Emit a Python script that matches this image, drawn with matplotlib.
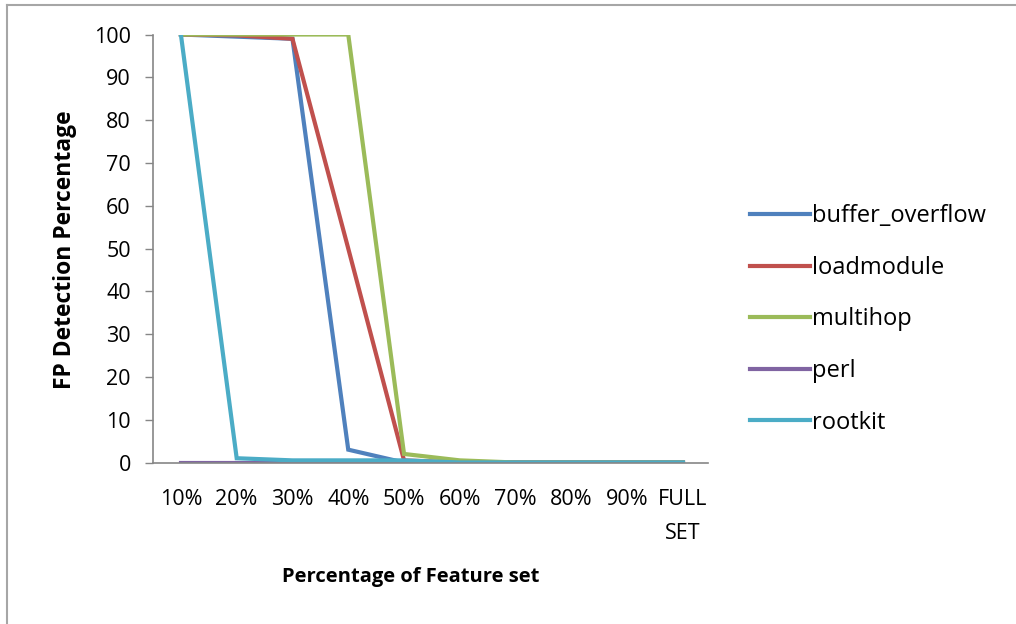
import matplotlib
matplotlib.use("Agg")
import matplotlib.pyplot as plt
from matplotlib.lines import Line2D

plt.rcParams['font.family'] = ['Open Sans', 'DejaVu Sans']

categories = ['10%', '20%', '30%', '40%', '50%', '60%', '70%', '80%', '90%', 'FULL\nSET']
buffer_overflow = [100, 99.5, 99, 3, 0, 0, 0, 0, 0, 0]
loadmodule = [100, 99.8, 99, 50, 0.5, 0, 0, 0, 0, 0]
multihop = [100, 100, 100, 100, 2, 0.5, 0, 0, 0, 0]
perl = [0, 0, 0, 0, 0, 0, 0, 0, 0, 0]
rootkit = [100, 1, 0.5, 0.5, 0.5, 0, 0, 0, 0, 0]

series = [
    ('buffer_overflow', buffer_overflow, '#4F81BD'),
    ('loadmodule', loadmodule, '#C0504D'),
    ('multihop', multihop, '#9BBB59'),
    ('perl', perl, '#8064A2'),
    ('rootkit', rootkit, '#4BACC6'),
]

fig = plt.figure(figsize=(10.16, 6.24), dpi=100)
ax = fig.add_axes([0.1506, 0.2588, 0.5463, 0.6859])

x = list(range(len(categories)))
for name, vals, col in series:
    ax.plot(x, vals, color=col, lw=3, label=name, solid_joinstyle='miter')

ax.set_xlim(-0.5, 9.45)
ax.set_ylim(0, 100)
ax.set_yticks(range(0, 101, 10))
ax.set_xticks(x)
ax.set_xticklabels(categories, fontsize=15.5, linespacing=1.85)
ax.tick_params(axis='y', direction='out', length=6, width=1, color='#868686',
               labelsize=15.5, pad=10)
ax.tick_params(axis='x', length=0, pad=19)
for s in ['top', 'right']:
    ax.spines[s].set_visible(False)
for s in ['left', 'bottom']:
    ax.spines[s].set_color('#868686')
    ax.spines[s].set_linewidth(1.2)

fig.text(0.064, 0.6, 'FP Detection Percentage', rotation=90, fontsize=16.5,
         fontweight='bold', ha='center', va='center')
fig.text(0.404, 0.075, 'Percentage of Feature set', fontsize=14.5,
         fontweight='bold', ha='center', va='center')

ax.legend(loc='center left', bbox_to_anchor=(0.738, 0.488),
          bbox_transform=fig.transFigure, frameon=False, fontsize=17,
          handlelength=2.55, handletextpad=0.08, labelspacing=1.17, borderpad=0,
          borderaxespad=0)

# outer frame (only top and left edges are visible in the crop)
fig.add_artist(Line2D([0.0069, 1], [1 - 5 / 624, 1 - 5 / 624], color='#A6A6A6',
                      lw=1.5, transform=fig.transFigure))
fig.add_artist(Line2D([0.0069, 0.0069], [0, 1 - 5 / 624], color='#A6A6A6',
                      lw=1.5, transform=fig.transFigure))

fig.savefig('out.png', dpi=100)
